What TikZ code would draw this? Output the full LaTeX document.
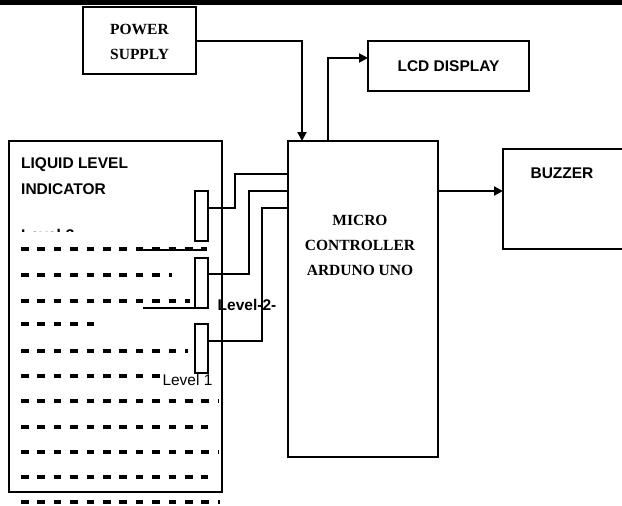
\documentclass[tikz,border=0pt]{standalone}
\usepackage{fontspec}
\setmainfont{Liberation Serif}
\setsansfont{Liberation Sans}
\usetikzlibrary{arrows.meta,calc}
\begin{document}
\begin{tikzpicture}[x=1pt,y=-1pt,
  box/.style={draw, line width=2pt, inner sep=0pt, outer sep=0pt, rectangle},
  wire/.style={line width=2pt},
  arr/.style={wire, -{Triangle[length=9pt,width=9pt]}},
  dashrow/.style={line width=3.4pt, dash pattern=on 7.5pt off 8.9pt},
  sanstxt/.style={font=\fontsize{15.5}{26}\selectfont\sffamily\bfseries, inner sep=0pt},
  plaintxt/.style={font=\fontsize{15.5}{18}\selectfont\sffamily, inner sep=0pt},
  seriftxt/.style={font=\fontsize{15.5}{25}\selectfont\bfseries, inner sep=0pt},
]
\useasboundingbox (0,0) rectangle (622,506);
\fill (0,0) rectangle (622,4.5);

% boxes
\node[box, minimum width=113pt, minimum height=67pt] (ps) at (139.5,40.5) {};
\node[seriftxt, align=left, anchor=west] (pstxt) at (110,42) {POWER\\SUPPLY};

\node[box, minimum width=161pt, minimum height=50pt, font=\fontsize{15.5}{18}\selectfont\sffamily\bfseries] (lcd) at (448.5,66) {LCD DISPLAY};

\node[box, minimum width=150pt, minimum height=316pt] (mc) at (363,299) {};
\node[seriftxt, align=center] (mctxt) at (360,245) {MICRO\\CONTROLLER\\ARDUNO UNO};

\node[box, minimum width=127pt, minimum height=100pt] (bz) at (566.5,199) {};
\node[sanstxt] (bztxt) at (562,173) {BUZZER};

\node[box, minimum width=213pt, minimum height=351pt] (lq) at (115.5,316.5) {};
\node[sanstxt, align=left, anchor=west] (lqtxt) at (21,176) {LIQUID LEVEL\\INDICATOR};

% level 3 label (mostly hidden)
\begin{scope}
\clip (10,228.5) rectangle (100,231);
\node[sanstxt, anchor=north west] (l3) at (21,229) {Level-3};
\end{scope}

% liquid dashes
\foreach \yy/\ee in {249/207, 275/172, 301/190, 324/98, 351/188, 376/160, 401/218, 427/208, 452/218, 477/208, 502/220}
  \draw[dashrow] (21,\yy) -- (\ee,\yy);
\draw[wire] (138,250) -- (207,250);
\draw[wire] (143,308) -- (196,308);

% sensors
\node[box, fill=white, minimum width=13pt, minimum height=50pt] (s1) at (201.5,216) {};
\node[box, fill=white, minimum width=13pt, minimum height=50pt] (s2) at (201.5,283) {};
\node[box, fill=white, minimum width=13pt, minimum height=49pt] (s3) at (201.5,348.5) {};

% sensor wires
\draw[wire] ($(s1.east)+(0,-8)$) -- ++(27,0) |- ($(mc.north west)+(0,33)$);
\draw[wire] ($(s2.east)+(0,-9)$) -- ++(41,0) |- ($(mc.north west)+(0,50)$);
\draw[wire] ($(s3.east)+(0,-7.5)$) -- ++(54,0) |- ($(mc.north west)+(0,67)$);

\node[sanstxt] (l2) at (247,305) {Level-2-};
\node[plaintxt] (l1) at (187.5,380) {Level 1};

% arrows
\draw[arr] (ps.east) -| ($(mc.north west)+(14,0)$);
\draw[arr] ($(mc.north west)+(40,0)$) |- ($(lcd.west)+(0,-8)$);
\draw[arr] ($(mc.east)+(0,-108)$) -- ($(bz.west)+(0,-8)$);
\end{tikzpicture}
\end{document}
